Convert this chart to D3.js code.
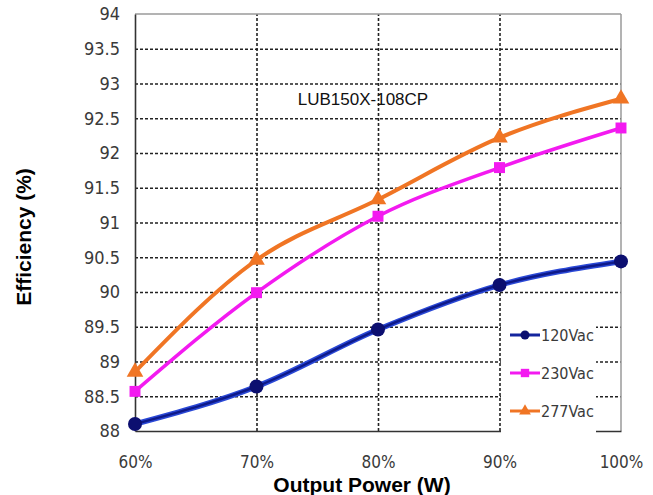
<!DOCTYPE html>
<html><head><meta charset="utf-8">
<script src="https://cdn.jsdelivr.net/npm/d3@7"></script>
<style>
html,body{margin:0;padding:0;background:#fff;}
svg{display:block;}
</style></head>
<body>
<svg id="chart" width="653" height="495"></svg>
<script>
const categories = ["60%", "70%", "80%", "90%", "100%"];
const yTicks = [88, 88.5, 89, 89.5, 90, 90.5, 91, 91.5, 92, 92.5, 93, 93.5, 94];
const seriesNames = ["120Vac", "230Vac", "277Vac"];
const v120 = [88.10, 88.64, 89.46, 90.10, 90.44];
const v230 = [88.57, 89.99, 91.09, 91.79, 92.36];
const v277 = [88.85, 90.46, 91.33, 92.22, 92.78];
const chartTitle = "LUB150X-108CP";
const xTitle = "Output Power (W)";
const yTitle = "Efficiency (%)";

const svg = d3.select("#chart");
const L = 135, R = 621, T = 14, B = 431;
const x = d3.scalePoint().domain(categories).range([L, R]);
const y = d3.scaleLinear().domain([88, 94]).range([B, T]);
const narrow = "'Liberation Sans Narrow','DejaVu Sans Condensed',sans-serif";

// horizontal grid
svg.append("g").attr("transform", `translate(${L},0)`)
  .call(d3.axisLeft(y).tickValues(yTicks.filter(d => d > 88 && d < 94)).tickSize(-(R - L)).tickFormat(""))
  .call(g => g.select(".domain").remove())
  .call(g => g.selectAll("line").attr("stroke", "#222").attr("stroke-width", 1.6).attr("stroke-dasharray", "3,2"));
// vertical grid
svg.append("g").attr("transform", `translate(0,${B})`)
  .call(d3.axisBottom(x).tickValues(categories.slice(1, -1)).tickSize(-(B - T)).tickFormat(""))
  .call(g => g.select(".domain").remove())
  .call(g => g.selectAll("line").attr("stroke", "#222").attr("stroke-width", 1.6).attr("stroke-dasharray", "3,2"));

// frame: top & right gray
svg.append("line").attr("x1", L).attr("x2", R).attr("y1", y(94)).attr("y2", y(94)).attr("stroke", "#9a9a9a").attr("stroke-width", 1.5);
svg.append("line").attr("x1", R).attr("x2", R).attr("y1", y(94)).attr("y2", y(88)).attr("stroke", "#9a9a9a").attr("stroke-width", 1.5);

// left axis
svg.append("g").attr("transform", `translate(${L},0)`)
  .call(d3.axisLeft(y).tickValues(yTicks).tickSize(0).tickPadding(15).tickFormat(d => String(d)))
  .call(g => g.select(".domain").attr("stroke", "#333").attr("stroke-width", 1.6))
  .call(g => g.selectAll("text").attr("font-family", narrow).attr("font-size", 18).attr("fill", "#3a3a3a"));
// bottom axis
svg.append("g").attr("transform", `translate(0,${B})`)
  .call(d3.axisBottom(x).tickSize(0).tickPadding(25))
  .call(g => g.select(".domain").attr("stroke", "#333").attr("stroke-width", 1.6))
  .call(g => g.selectAll("text").attr("font-family", narrow).attr("font-size", 17).attr("fill", "#3a3a3a"));

// title
svg.append("text").attr("x", 363).attr("y", 105).attr("text-anchor", "middle")
  .attr("font-family", "Liberation Sans, Arial, sans-serif").attr("font-size", 17).attr("fill", "#111").text(chartTitle);

// axis titles
svg.append("text").attr("x", 362).attr("y", 492).attr("text-anchor", "middle")
  .attr("font-family", "Liberation Sans, Arial, sans-serif").attr("font-weight", "bold").attr("font-size", 21).attr("fill", "#000").text(xTitle);
svg.append("text").attr("transform", "translate(31,237) rotate(-90)").attr("text-anchor", "middle")
  .attr("font-family", "Liberation Sans, Arial, sans-serif").attr("font-weight", "bold").attr("font-size", 21).attr("fill", "#000").text(yTitle);

// series
const line = d3.line().x((d, i) => x(categories[i])).y(d => y(d)).curve(d3.curveMonotoneX);
const tri = d3.symbol().type(d3.symbolTriangle);
const sq = d3.symbol().type(d3.symbolSquare);

svg.append("path").datum(v277).attr("d", line).attr("fill", "none").attr("stroke", "#f07524").attr("stroke-width", 4);
svg.append("path").datum(v230).attr("d", line).attr("fill", "none").attr("stroke", "#f31af0").attr("stroke-width", 3.5);
svg.append("path").datum(v120).attr("d", line).attr("fill", "none").attr("stroke", "#2a48d6").attr("stroke-width", 5.5);
svg.append("path").datum(v120).attr("d", line).attr("fill", "none").attr("stroke", "#0e1a8a").attr("stroke-width", 2.5);

svg.selectAll(".m277").data(v277).join("path")
  .attr("transform", (d, i) => `translate(${x(categories[i])},${y(d)})`)
  .attr("d", tri.size(120)).attr("fill", "#f07524");
svg.selectAll(".m230").data(v230).join("path")
  .attr("transform", (d, i) => `translate(${x(categories[i])},${y(d)})`)
  .attr("d", sq.size(120)).attr("fill", "#f31af0");
svg.selectAll(".m120").data(v120).join("circle")
  .attr("cx", (d, i) => x(categories[i])).attr("cy", d => y(d)).attr("r", 7).attr("fill", "#0c0f70");

// legend
const lg = svg.append("g");
lg.append("rect").attr("x", 501).attr("y", 306).attr("width", 95).attr("height", 130).attr("fill", "#fff");
const colors = ["#14259e", "#f31af0", "#f07524"];
const ly = [335, 373, 411];
seriesNames.forEach((name, i) => {
  lg.append("line").attr("x1", 510).attr("x2", 540).attr("y1", ly[i]).attr("y2", ly[i]).attr("stroke", colors[i]).attr("stroke-width", 3);
  if (i === 0) lg.append("circle").attr("cx", 525).attr("cy", ly[i]).attr("r", 4.5).attr("fill", "#0c0f70");
  if (i === 1) lg.append("path").attr("transform", `translate(525,${ly[i]})`).attr("d", sq.size(70)).attr("fill", colors[i]);
  if (i === 2) lg.append("path").attr("transform", `translate(525,${ly[i]})`).attr("d", tri.size(60)).attr("fill", colors[i]);
  lg.append("text").attr("x", 541).attr("y", ly[i]).attr("dy", "0.35em")
    .attr("font-family", narrow).attr("font-size", 16).attr("fill", "#3a3a3a").text(name);
});
</script>
</body></html>
